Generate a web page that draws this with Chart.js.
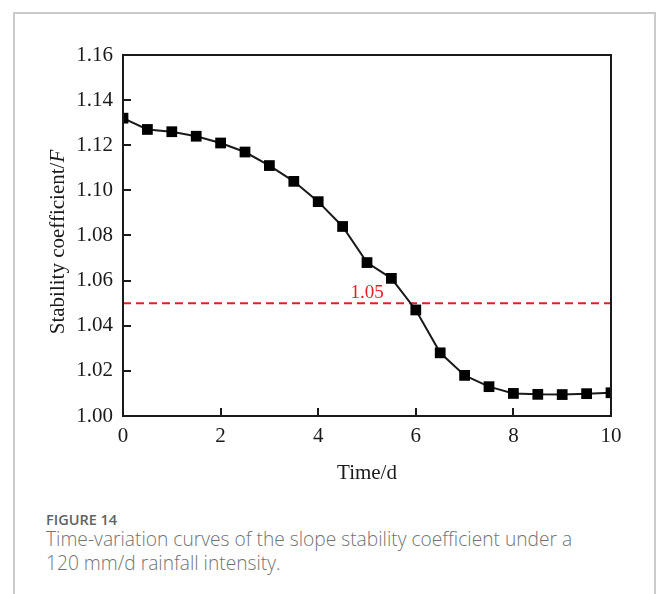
<!DOCTYPE html>
<html>
<head>
<meta charset="utf-8">
<script src="https://cdn.jsdelivr.net/npm/chart.js@4"></script>
<style>
  html, body { margin: 0; padding: 0; background: #fff; overflow: hidden; }
  body { width: 659px; height: 594px; position: relative; }
  #card { position: absolute; left: 13px; top: 12px; width: 639px; height: 700px; border: 2px solid #cacaca; }
  #wrap { position: absolute; left: 0; top: 0; width: 659px; height: 500px; }
  #fig { position: absolute; left: 46px; top: 512px; font: 600 14.5px "Open Sans", sans-serif; line-height: 16px; color: #626262; }
  #cap { position: absolute; left: 46px; top: 527px; width: 545px; font: 300 19.2px "Open Sans", sans-serif; line-height: 24px; color: #737373; }
</style>
</head>
<body>
<div id="card"></div>
<div id="wrap"><canvas id="myChart"></canvas></div>
<div id="fig">FIGURE 14</div>
<div id="cap">Time-variation curves of the slope stability coefficient under a 120 mm/d rainfall intensity.</div>
<script>
// time in days and the stability coefficient
const days = [0, 0.5, 1, 1.5, 2, 2.5, 3, 3.5, 4, 4.5, 5, 5.5, 6, 6.5, 7, 7.5, 8, 8.5, 9, 9.5, 10];
const stability = [1.132, 1.127, 1.126, 1.124, 1.121, 1.117, 1.111, 1.104, 1.095, 1.084, 1.068, 1.061,
                   1.047, 1.028, 1.018, 1.013, 1.010, 1.0096, 1.0095, 1.0099, 1.0103];

// critical value line
const limitValue = 1.05;
const limitRange = [0, 10];
const limitLabel = '1.05';
const limitLabelAt = [5.0, 1.0545];

const xTicks = [0, 2, 4, 6, 8, 10];
const yTicks = [1.00, 1.02, 1.04, 1.06, 1.08, 1.10, 1.12, 1.14, 1.16];

const ink = '#1a1a1a';
const red = '#e21f26';
const serif = '"Liberation Serif", "Times New Roman", serif';

// frame on all four sides + ticks pointing into the plot
const framePlugin = {
    id: 'frame',
    afterDatasetsDraw(chart) {
        const {ctx, chartArea: a, scales: {x, y}} = chart;
        ctx.save();
        ctx.strokeStyle = ink;
        ctx.lineWidth = 2;
        ctx.strokeRect(a.left, a.top, a.right - a.left, a.bottom - a.top);
        ctx.beginPath();
        xTicks.forEach(v => {
            const px = Math.round(x.getPixelForValue(v));
            ctx.moveTo(px, a.bottom);
            ctx.lineTo(px, a.bottom - 8);
        });
        yTicks.forEach(v => {
            const py = Math.round(y.getPixelForValue(v));
            ctx.moveTo(a.left, py);
            ctx.lineTo(a.left + 8, py);
        });
        ctx.stroke();

        // label of the dashed line
        ctx.fillStyle = red;
        ctx.font = '19px ' + serif;
        ctx.textAlign = 'center';
        ctx.textBaseline = 'middle';
        ctx.fillText(limitLabel, x.getPixelForValue(limitLabelAt[0]), y.getPixelForValue(limitLabelAt[1]));
        ctx.restore();
    },
    afterDraw(chart) {
        // y title with italic F
        const {ctx} = chart;
        const part1 = 'Stability coefficient/';
        const part2 = 'F';
        ctx.save();
        ctx.fillStyle = ink;
        ctx.textBaseline = 'middle';
        ctx.textAlign = 'left';
        ctx.font = '21px ' + serif;
        const w1 = ctx.measureText(part1).width;
        ctx.font = 'italic 21px ' + serif;
        const w2 = ctx.measureText(part2).width;
        ctx.translate(58, 242);
        ctx.rotate(-Math.PI / 2);
        const start = -(w1 + w2) / 2;
        ctx.font = '21px ' + serif;
        ctx.fillText(part1, start, 0);
        ctx.font = 'italic 21px ' + serif;
        ctx.fillText(part2, start + w1, 0);
        ctx.restore();
    }
};

const ctx = document.getElementById('myChart').getContext('2d');

const myChart = new Chart(ctx, {
    type: 'line',
    data: {
        datasets: [{
            label: 'F',
            data: days.map((d, i) => ({x: d, y: stability[i]})),
            borderColor: ink,
            backgroundColor: '#000',
            borderWidth: 2,
            pointStyle: 'rect',
            pointRadius: 7.6,
            pointBorderWidth: 0,
            tension: 0,
            order: 0
        }, {
            label: 'limit',
            data: limitRange.map(d => ({x: d, y: limitValue})),
            borderColor: red,
            borderWidth: 2,
            borderDash: [8, 5],
            pointRadius: 0,
            order: 1
        }]
    },
    options: {
        responsive: true,
        maintainAspectRatio: false,
        animation: false,
        layout: {
            padding: {left: 0, top: 55, right: 48, bottom: 14}
        },
        plugins: {
            legend: {display: false},
            tooltip: {enabled: false}
        },
        scales: {
            x: {
                type: 'linear',
                min: 0,
                max: 10,
                afterBuildTicks: s => { s.ticks = xTicks.map(v => ({value: v})); },
                afterFit: s => { s.height = 70; },
                grid: {display: false, drawTicks: false},
                border: {display: false},
                ticks: {
                    color: ink,
                    padding: 8,
                    maxRotation: 0,
                    font: {family: serif, size: 21}
                },
                title: {
                    display: true,
                    text: 'Time/d',
                    color: ink,
                    padding: {top: 0, bottom: 0},
                    font: {family: serif, size: 21}
                }
            },
            y: {
                min: 1.00,
                max: 1.16,
                afterBuildTicks: s => { s.ticks = yTicks.map(v => ({value: v})); },
                afterFit: s => { s.width = 123; },
                grid: {display: false, drawTicks: false},
                border: {display: false},
                ticks: {
                    color: ink,
                    padding: 10,
                    font: {family: serif, size: 21},
                    callback: v => Number(v).toFixed(2)
                }
            }
        }
    },
    plugins: [framePlugin]
});
</script>
</body>
</html>
